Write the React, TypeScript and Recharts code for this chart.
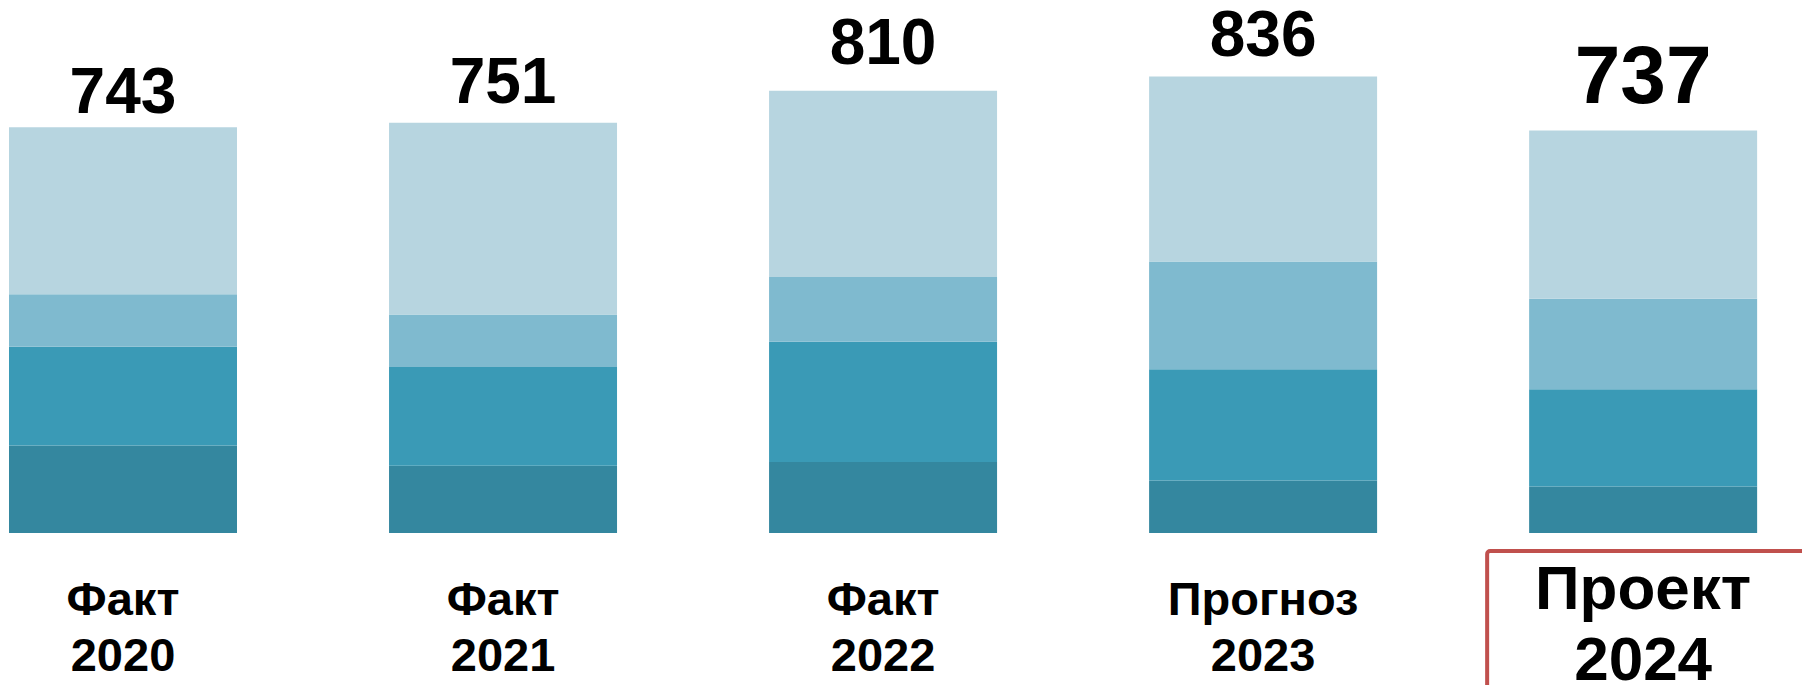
import { BarChart, Bar, XAxis, YAxis, LabelList } from 'recharts';

// Values: stacked segments from the bottom up
const categories = ['Факт\n2020', 'Факт\n2021', 'Факт\n2022', 'Прогноз\n2023', 'Проект\n2024'];
const darkValues = [160, 123, 130, 96, 85];
const midValues = [181, 181, 220, 204, 178];
const lightMidValues = [96, 96, 119, 197, 166];
const lightValues = [306, 351, 341, 339, 308];
const totals = [743, 751, 810, 836, 737];

const COLORS = {
  dark: '#34879f',
  mid: '#3a9ab6',
  lightMid: '#7fbacf',
  light: '#b7d5e0',
};

const FONT = '"Liberation Sans", Arial, sans-serif';

// hand-placed value labels in the source: gap above bar and font size per bar
const TOP_GAP = [14, 20, 27, 20, 28];
const TOP_SIZE = [64, 64, 64, 64, 82];

const data = categories.map((cat, i) => ({
  x: i,
  cat,
  dark: darkValues[i],
  mid: midValues[i],
  lightMid: lightMidValues[i],
  light: lightValues[i],
  total: totals[i],
}));

function TotalLabel(props: any) {
  const { x, y, width, index } = props;
  return (
    <text
      x={x + width / 2}
      y={y - TOP_GAP[index]}
      textAnchor="middle"
      fontFamily={FONT}
      fontWeight="bold"
      fontSize={TOP_SIZE[index]}
      fill="#000"
    >
      {totals[index]}
    </text>
  );
}

function CategoryTick(props: any) {
  const { x, payload } = props;
  const i = payload.value as number;
  const lines = (categories[i] ?? '').split('\n');
  const isProject = i === categories.length - 1;
  const size = isProject ? 62 : 47;
  const y1 = isProject ? 609 : 615;
  const y2 = isProject ? 680 : 671;
  return (
    <g>
      {isProject && (
        <rect
          x={x - 156}
          y={551}
          width={400}
          height={200}
          rx={3}
          fill="none"
          stroke="#c0504d"
          strokeWidth={4}
        />
      )}
      <text x={x} y={y1} textAnchor="middle" fontFamily={FONT} fontWeight="bold" fontSize={size} fill="#000">
        {lines[0]}
      </text>
      <text x={x} y={y2} textAnchor="middle" fontFamily={FONT} fontWeight="bold" fontSize={size} fill="#000">
        {lines[1]}
      </text>
    </g>
  );
}

export default function App() {
  return (
    <div style={{ position: 'absolute', left: 0, top: 0, width: 1802, height: 685, background: '#fff' }}>
      <BarChart
        width={1802}
        height={685}
        data={data}
        margin={{ top: 0, right: 0, left: 0, bottom: 0 }}
        barGap={0}
      >
        <XAxis
          dataKey="x"
          type="number"
          domain={[-0.3237, 4.418]}
          ticks={[0, 1, 2, 3, 4]}
          axisLine={false}
          tickLine={false}
          tick={<CategoryTick />}
          height={152}
          allowDataOverflow
        />
        <YAxis hide domain={[0, 976]} allowDataOverflow />
        <Bar dataKey="dark" stackId="a" fill={COLORS.dark} barSize={228} isAnimationActive={false} />
        <Bar dataKey="mid" stackId="a" fill={COLORS.mid} barSize={228} isAnimationActive={false} />
        <Bar dataKey="lightMid" stackId="a" fill={COLORS.lightMid} barSize={228} isAnimationActive={false} />
        <Bar dataKey="light" stackId="a" fill={COLORS.light} barSize={228} isAnimationActive={false}>
          <LabelList dataKey="total" content={<TotalLabel />} />
        </Bar>
      </BarChart>
    </div>
  );
}
